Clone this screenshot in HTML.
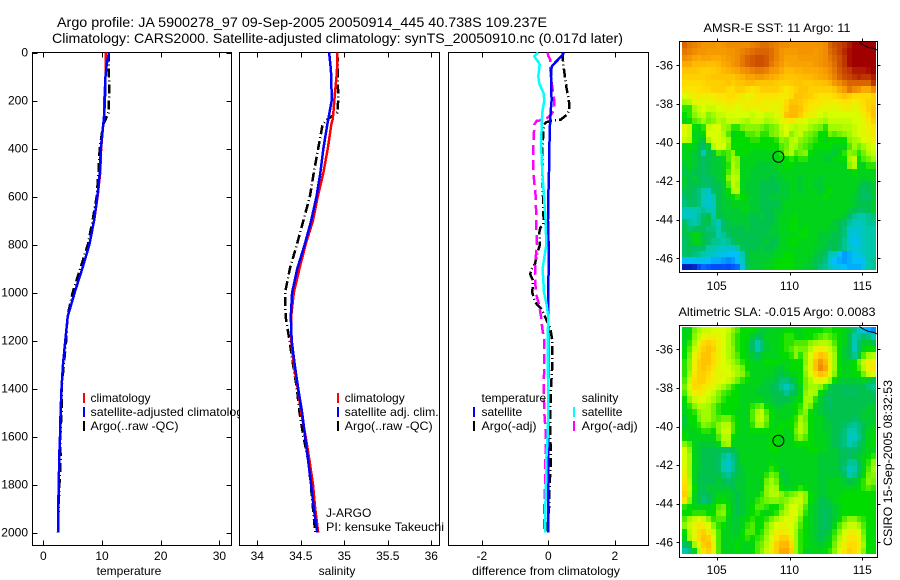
<!DOCTYPE html>
<html>
<head>
<meta charset="utf-8">
<title>Argo profile</title>
<style>
html,body{margin:0;padding:0;background:#fff;}
svg{display:block;font-family:"Liberation Sans",sans-serif;font-size:12px;fill:#000;}
</style>
</head>
<body>
<svg id="fig" xmlns="http://www.w3.org/2000/svg" width="900" height="580" viewBox="0 0 900 580">
<rect x="0" y="0" width="900" height="580" fill="#fff"/>
<text x="57" y="27" font-size="14" textLength="490" lengthAdjust="spacingAndGlyphs">Argo profile: JA 5900278_97 09-Sep-2005 20050914_445 40.738S 109.237E</text>
<text x="52" y="43" font-size="14" textLength="571" lengthAdjust="spacingAndGlyphs">Climatology: CARS2000. Satellite-adjusted climatology: synTS_20050910.nc (0.017d later)</text>
</svg>
<script>
// ---------- shared profile data ----------
var depths = [0,50,100,200,250,280,300,400,500,600,700,800,900,1000,1100,1200,1300,1400,1500,1600,1700,1800,1900,2000];
var depthTicks = [0,200,400,600,800,1000,1200,1400,1600,1800,2000];

// temperature panel
var tempTicks = [0,10,20,30];
var tempClim = [10.6,10.6,10.6,10.4,10.4,10.3,10.2,9.85,9.7,9.25,8.65,7.85,6.65,5.35,4.15,3.75,3.35,3.1,2.95,2.85,2.7,2.65,2.5,2.5];
var tempSat  = [11.2,10.8,10.6,10.5,10.4,10.3,10.2,9.8,9.65,9.2,8.65,7.85,6.65,5.35,4.15,3.75,3.35,3.1,2.95,2.85,2.7,2.65,2.5,2.5];
var tempArgo = [11.1,11.15,11.2,11.2,11.1,10.6,10.2,9.6,9.4,9.1,8.4,7.6,6.3,5.0,4.1,3.9,3.5,3.1,3.1,2.9,2.95,2.75,2.6,2.5];

// salinity panel
var salTicks = [34,34.5,35,35.5,36];
var salClim = [34.92,34.92,34.91,34.885,34.875,34.865,34.85,34.81,34.76,34.695,34.64,34.555,34.485,34.42,34.39,34.39,34.42,34.465,34.505,34.555,34.6,34.64,34.665,34.7];
var salSat  = [34.825,34.84,34.85,34.855,34.83,34.815,34.805,34.76,34.725,34.68,34.62,34.545,34.46,34.4,34.385,34.395,34.43,34.47,34.515,34.55,34.585,34.62,34.65,34.69];
var salArgo = [34.92,34.925,34.925,34.93,34.92,34.8,34.75,34.7,34.65,34.605,34.53,34.455,34.375,34.32,34.325,34.37,34.41,34.455,34.485,34.53,34.585,34.615,34.64,34.665];

// difference panel
var diffTicks = [-2,0,2];
var diffDepthsT = [0,15,50,100,150,200,240,260,280,285,290,300,400,500,600,700,720,730,750,800,830,880,905,925,950,1000,1040,1070,1110,1150,1200,1300,1400,1500,1600,1700,1750,1800,1900,2000];
var diffTempArgo = [0.43,0.43,0.45,0.5,0.55,0.62,0.64,0.55,0.37,0.08,-0.05,-0.13,-0.18,-0.18,-0.16,-0.14,-0.15,-0.24,-0.27,-0.25,-0.32,-0.4,-0.52,-0.54,-0.46,-0.48,-0.4,-0.2,-0.07,0.06,0.12,0.12,0.08,0.06,0.06,0.08,0.06,0.04,0.02,-0.05];
var diffDepthsTS = [0,15,50,60,100,200,250,300,400,500,600,700,800,900,1000,1100,1400,1700,2000];
var diffTempSat = [0.47,0.4,0.15,0.1,0.08,0.1,0.07,0.05,0.03,0.02,0,-0.01,0.01,0.01,0,0,0,0,0];
var diffDepthsS = [0,15,30,50,100,130,170,200,250,300,400,500,600,700,800,900,1000,1050,1100,1200,1300,1400,1500,1600,1700,1800,1900,2000];
var diffSalSat = [-0.3,-0.42,-0.35,-0.26,-0.3,-0.27,-0.14,-0.12,-0.18,-0.2,-0.21,-0.18,-0.13,-0.08,-0.06,-0.17,-0.13,-0.05,0,-0.02,-0.02,0,0,-0.02,-0.06,-0.07,-0.09,-0.09];
var diffDepthsSA = [0,15,30,100,170,200,240,260,280,285,300,400,500,600,700,800,900,1000,1050,1100,1150,1200,1300,1400,1500,1600,1700,1800,1900,2000];
var diffSalArgo = [-0.02,0,0.06,0.07,0.15,0.18,0.17,0.08,-0.1,-0.35,-0.42,-0.45,-0.45,-0.38,-0.36,-0.35,-0.4,-0.38,-0.28,-0.22,-0.18,-0.12,-0.12,-0.14,-0.12,-0.07,-0.09,-0.1,-0.12,-0.12];

// map data (colour-scale index 0..100), rows north to south
var mapLonTicks = [105,110,115];
var mapLatTicks = [-36,-38,-40,-42,-44,-46];
var floatLon = 109.237;
var floatLat = -40.738;
var coastLon = [114.8,115.07,115.41,115.76,116.03];
var coastLat = [-34.82,-34.95,-35.07,-35.12,-35.21];
var sstGrid = [
[92,90,89,88,87,87,87,86,87,88,88,88,88,88,89,90,91,91,90,89,88,88,87,87,87,87,87,87,87,88,92,94,95,96,98,100,100,100,100,100],
[90,89,88,87,87,86,86,86,86,87,87,88,89,90,91,92,92,92,91,89,87,86,86,86,87,87,87,86,87,88,91,93,95,97,99,100,100,100,100,100],
[88,87,85,84,85,85,84,84,85,86,87,88,90,92,93,94,94,93,91,89,87,85,85,85,86,86,86,86,87,88,90,92,94,96,99,100,100,100,100,100],
[84,84,82,82,82,81,81,82,84,85,87,88,90,92,93,94,94,93,90,88,86,84,85,85,85,85,85,86,87,88,89,91,94,96,99,100,100,100,100,100],
[80,80,80,79,78,78,79,80,82,83,84,85,87,88,89,90,90,89,87,86,84,82,82,83,83,84,84,84,85,86,88,90,93,95,96,98,98,98,99,100],
[78,78,78,78,78,79,80,80,80,80,80,82,83,85,85,86,86,85,84,83,81,80,80,80,81,82,82,83,84,85,87,89,92,94,95,96,97,96,96,98],
[76,76,76,76,77,78,78,78,79,80,78,80,80,82,82,80,80,80,80,79,78,78,79,80,80,79,79,80,80,81,83,86,88,90,92,92,92,92,92,96],
[74,74,74,75,76,76,78,78,78,76,76,78,78,76,74,76,78,78,78,78,76,74,76,78,80,80,78,78,78,78,78,80,84,86,90,88,87,84,84,88],
[68,70,72,73,72,72,72,74,74,76,76,74,73,70,72,74,74,74,74,74,72,73,76,80,80,79,78,76,74,74,74,76,78,80,78,76,76,76,76,78],
[62,64,70,70,70,70,70,71,72,74,73,71,72,72,73,74,72,72,72,72,72,76,80,80,79,77,75,74,74,72,72,72,73,74,74,72,74,76,78,78],
[54,54,62,66,68,66,66,68,70,70,70,68,70,72,70,70,72,72,70,70,72,77,82,82,80,76,74,72,70,70,70,70,70,72,72,70,72,74,78,80],
[52,54,60,64,66,60,62,66,66,68,68,68,68,68,66,68,68,66,66,70,72,80,82,82,78,74,72,70,68,66,68,68,68,68,68,68,70,72,76,80],
[50,52,56,58,62,58,60,64,62,66,66,66,64,62,66,66,66,62,64,66,70,72,74,72,70,68,66,66,64,62,66,66,66,66,66,68,68,70,74,78],
[70,66,52,50,54,66,68,68,62,60,54,54,58,60,60,60,58,56,58,60,66,68,66,64,66,66,62,60,58,54,62,62,62,64,64,66,68,70,72,74],
[68,66,50,50,52,68,68,68,64,56,50,52,52,56,56,58,54,54,58,60,64,68,60,64,66,60,58,56,52,52,58,56,58,60,62,66,68,70,70,74],
[66,64,52,48,46,62,68,68,66,62,52,52,52,52,54,54,52,52,52,54,60,58,64,66,60,58,56,54,52,50,52,52,52,52,60,62,64,68,70,72],
[50,52,50,46,44,48,64,68,68,60,52,52,52,52,52,52,52,52,52,52,56,58,64,62,58,56,54,52,52,52,52,50,50,50,56,62,58,62,66,68],
[50,50,48,46,36,46,48,56,54,56,60,52,52,52,50,50,50,50,50,52,54,60,64,56,58,60,52,50,50,50,50,48,50,54,60,58,54,58,64,66],
[50,50,48,46,44,46,48,48,50,56,62,60,50,50,50,50,50,50,50,50,52,52,54,52,54,54,50,50,50,48,48,50,52,52,62,66,52,56,58,62],
[48,50,48,46,44,46,48,48,50,54,64,60,50,50,50,48,48,48,48,50,50,52,52,50,50,50,50,50,50,50,50,50,50,50,60,64,50,50,54,54],
[46,48,46,46,44,46,48,48,50,56,64,62,50,50,48,48,48,48,48,48,50,50,50,50,50,50,50,50,50,50,50,50,50,50,50,52,50,50,50,50],
[48,46,48,46,44,44,46,48,50,60,66,64,50,50,48,48,48,48,46,48,48,50,50,50,48,50,50,50,48,50,50,50,50,50,50,50,50,48,50,50],
[48,46,46,46,44,44,46,46,48,56,66,62,50,48,48,48,46,46,46,46,48,48,50,50,48,50,50,48,48,50,50,50,50,50,50,50,48,46,46,48],
[46,46,44,42,38,36,44,46,48,52,64,64,50,48,48,48,46,46,46,46,48,48,50,50,48,50,50,50,48,50,52,50,50,50,50,50,46,44,46,48],
[44,46,44,42,36,34,38,46,48,50,52,54,52,50,48,48,46,46,48,48,48,48,50,50,50,50,50,50,50,52,50,50,50,50,50,48,46,44,44,48],
[42,44,44,42,36,34,36,46,48,48,50,50,50,50,48,48,46,46,46,46,48,50,50,50,50,50,50,50,50,50,50,50,50,50,50,48,46,46,46,48],
[36,36,38,38,40,38,36,46,48,48,48,48,50,50,48,48,46,46,46,48,48,50,50,50,50,50,50,50,50,50,50,50,50,50,48,46,44,44,46,48],
[36,34,36,40,44,46,38,46,46,48,48,48,48,48,46,46,48,46,46,48,50,50,50,52,50,50,50,50,50,50,50,50,50,48,44,40,38,38,40,42],
[44,40,38,40,46,46,40,36,44,46,48,48,48,48,46,46,46,46,46,48,50,50,52,52,50,50,50,50,50,50,50,48,46,44,40,36,36,38,40,40],
[46,42,44,46,44,42,42,38,44,46,46,46,46,48,46,46,46,46,48,48,50,50,52,52,50,52,50,50,50,50,48,48,46,42,36,34,34,36,38,38],
[46,48,50,50,46,44,44,38,40,44,46,46,46,46,46,46,46,46,48,48,50,50,50,50,52,52,50,50,48,48,48,46,46,42,34,32,34,36,38,38],
[44,46,50,50,46,44,40,40,38,40,44,46,46,46,46,46,46,48,46,46,50,50,52,52,50,50,50,50,48,48,46,46,44,40,34,30,32,36,38,38],
[44,46,44,44,44,38,38,36,34,34,34,38,44,46,46,46,48,46,46,48,50,50,50,50,50,50,50,48,48,46,44,46,44,40,36,32,34,36,38,38],
[44,44,42,40,38,36,34,32,30,30,28,28,38,46,48,48,48,48,48,50,50,52,52,50,50,50,50,48,46,44,38,36,28,24,26,30,32,34,38,38],
[28,28,30,30,30,28,26,26,24,22,24,28,36,46,48,48,48,48,50,50,52,52,52,50,50,50,48,46,44,42,34,28,26,24,26,30,28,30,38,40],
[6,6,8,14,18,16,14,14,15,14,16,18,32,44,48,48,48,50,50,52,52,52,52,50,50,48,48,46,42,40,36,32,30,28,26,26,26,32,38,40]
];
var slaGrid = [
[50,50,58,62,66,66,68,68,68,66,60,56,52,52,52,50,48,48,50,50,50,52,52,50,50,52,52,52,52,54,54,52,52,50,48,42,34,30,26,22],
[50,52,60,66,70,72,72,70,68,64,58,54,52,52,48,44,46,50,50,50,52,54,54,52,50,52,52,54,56,58,56,54,52,50,46,38,40,44,42,36],
[50,54,62,70,76,78,76,72,68,64,58,54,52,50,44,38,42,48,50,50,52,54,54,56,56,56,60,62,64,64,62,56,52,50,46,37,44,48,48,46],
[52,56,66,74,78,80,78,72,68,64,60,54,52,50,44,38,42,48,50,50,52,54,56,60,58,58,64,70,72,70,66,60,52,48,46,36,44,50,52,52],
[52,58,70,76,80,80,76,72,68,64,60,56,52,50,48,44,48,50,50,50,52,52,54,60,54,60,68,76,80,78,70,62,52,48,46,40,48,56,62,64],
[54,60,72,78,80,80,76,72,68,66,62,58,54,52,50,50,50,52,52,52,50,50,52,52,52,60,70,80,86,82,72,62,52,50,50,52,58,66,72,72],
[54,60,72,78,80,78,74,70,68,68,64,62,58,52,50,50,50,50,50,48,48,50,52,52,52,62,70,80,88,84,72,62,52,50,50,52,56,64,72,74],
[54,62,74,78,78,76,72,70,70,68,66,62,60,54,50,50,50,50,50,48,46,48,50,50,52,60,68,76,80,78,70,60,52,50,50,52,52,58,66,68],
[56,66,76,78,78,74,72,70,68,66,62,58,54,52,50,50,50,48,48,46,42,42,46,48,52,58,64,68,70,68,62,52,48,48,48,48,48,50,48,44],
[58,68,76,76,74,72,70,66,62,58,54,52,50,50,50,50,48,48,46,44,40,36,40,46,50,58,62,62,60,54,48,46,46,46,46,46,46,46,42,40],
[56,66,72,74,72,68,66,60,56,54,52,52,50,50,50,48,48,48,46,46,44,40,44,46,50,60,64,62,52,48,46,46,46,44,44,44,46,46,46,44],
[52,60,66,70,68,66,62,58,54,52,52,52,50,50,50,50,50,48,48,46,46,46,48,50,52,62,62,54,48,46,44,46,46,46,46,46,46,46,46,46],
[50,54,60,64,64,62,58,54,52,52,52,52,50,50,54,56,58,52,50,48,48,50,50,52,54,62,58,50,48,46,44,46,46,46,46,46,46,46,48,48],
[50,52,54,60,62,62,58,54,52,52,52,50,50,50,56,62,66,56,52,50,50,50,50,52,56,60,52,50,48,46,46,46,46,46,46,46,46,48,48,48],
[48,52,52,58,62,62,58,56,58,58,54,52,50,50,56,64,66,58,52,50,50,50,52,54,62,58,52,50,50,48,46,46,46,46,46,44,46,48,48,48],
[48,50,52,54,60,58,56,60,64,64,56,52,50,50,54,62,62,56,52,50,52,52,52,56,64,60,52,50,50,48,48,46,46,44,42,40,42,46,48,50],
[50,50,50,52,54,54,52,60,66,66,56,52,50,50,52,52,52,52,50,52,52,50,52,58,64,60,52,50,50,48,48,46,46,42,38,38,42,46,50,50],
[52,50,50,50,50,50,50,56,64,64,52,50,50,50,50,50,50,50,52,52,50,50,50,56,60,56,52,50,50,50,48,46,44,42,36,36,40,46,50,52],
[60,56,50,48,48,48,48,50,60,62,50,50,50,50,50,50,50,50,52,52,50,50,50,52,52,52,52,50,50,50,48,46,44,42,38,40,44,48,50,52],
[68,60,50,48,46,46,46,46,44,44,46,48,50,50,50,50,50,50,52,52,50,50,50,50,50,50,52,52,50,50,48,48,46,44,44,44,46,48,50,50],
[68,62,50,48,46,46,46,44,40,38,42,46,50,50,50,50,50,50,50,50,50,50,50,50,50,50,50,50,48,48,48,48,46,46,44,46,48,50,52,54],
[68,62,50,48,46,46,46,44,38,36,40,46,50,50,50,50,50,50,52,50,50,50,50,50,50,50,50,50,48,48,48,48,46,44,40,40,46,50,54,60],
[70,62,50,48,46,46,46,44,38,35,40,46,48,50,50,50,50,50,54,52,48,50,50,50,50,50,50,50,48,48,48,48,46,42,36,38,44,50,56,62],
[72,62,50,46,46,46,46,46,42,40,44,46,48,50,50,50,50,54,58,56,48,48,50,50,50,50,50,50,48,48,48,48,48,44,38,40,46,52,58,60],
[74,64,50,46,46,46,46,48,46,44,46,48,48,50,50,50,50,58,62,58,50,48,50,50,50,50,50,50,48,48,50,50,50,48,46,48,50,54,60,58],
[76,66,52,46,46,48,48,48,48,48,46,48,48,50,50,50,50,60,64,62,52,50,50,52,54,52,50,50,48,48,50,50,50,50,50,50,52,54,56,54],
[78,64,50,46,44,46,48,50,50,50,48,46,48,50,50,50,54,60,64,64,60,56,58,60,64,60,52,50,48,48,50,50,50,52,52,52,52,52,52,52],
[74,60,50,46,42,44,48,52,52,50,48,46,48,50,50,54,56,58,60,60,58,60,64,66,66,60,52,50,46,46,48,50,52,52,52,52,52,52,52,52],
[54,52,50,50,50,50,52,56,58,52,48,46,48,50,52,56,56,54,52,52,56,62,68,68,64,56,50,48,46,46,46,48,50,52,52,52,52,52,52,52],
[52,52,54,54,54,52,52,58,60,52,48,46,48,50,52,54,52,50,52,54,60,64,70,68,62,54,50,48,46,44,46,48,50,52,52,52,52,52,52,52],
[56,62,66,68,66,60,54,56,56,50,48,48,50,52,54,52,52,54,58,62,66,68,70,66,58,52,50,48,46,44,46,48,52,56,60,60,56,54,52,52],
[60,66,70,74,72,68,60,54,52,50,48,48,50,54,56,52,52,58,64,68,70,70,68,64,56,52,50,48,46,44,46,50,56,62,66,66,62,56,52,52],
[52,64,70,76,78,72,66,56,50,50,48,48,52,56,56,52,54,60,66,72,74,72,68,62,54,52,50,48,46,46,48,54,60,68,72,72,68,58,52,52],
[50,62,70,76,80,78,68,56,50,50,50,50,52,54,52,54,56,62,68,74,78,78,72,62,54,52,50,48,46,48,50,56,64,70,74,74,70,60,52,52],
[44,46,62,72,78,80,72,56,50,50,50,52,50,50,50,56,58,64,70,78,82,82,76,62,54,52,50,50,48,50,52,58,66,72,76,76,72,62,52,52],
[38,42,50,66,74,78,72,56,50,50,50,52,50,50,52,56,60,66,72,78,84,84,78,62,54,50,50,50,50,52,54,60,68,74,78,76,70,60,52,52]
];

// ---------- helpers ----------
var NS = 'http://www.w3.org/2000/svg';
var svg = document.getElementById('fig');
function mk(tag, attrs, parent) {
  var e = document.createElementNS(NS, tag);
  for (var k in attrs) e.setAttribute(k, attrs[k]);
  (parent || svg).appendChild(e);
  return e;
}
function group(name) {
  var g = document.createElementNS(NS, 'g');
  
  
  svg.appendChild(g);
  return g;
}
function label(g, name, x, y, txt, anchor, len) {
  var t = mk('text', {x: x, y: y, 'text-anchor': anchor || 'start', 'font-size': 12}, g);
  if (len) {
    t.setAttribute('textLength', len);
    t.setAttribute('lengthAdjust', 'spacingAndGlyphs');
  }
  
  
  t.textContent = txt;
  return t;
}
function seg(g, x1, y1, x2, y2, col) {
  return mk('line', {x1: x1, y1: y1, x2: x2, y2: y2, stroke: col || '#000', 'stroke-width': 1, 'shape-rendering': 'crispEdges'}, g);
}
var depthY = function (d) { return 52.5 + d * 0.24; };
var PTOP = 52.5, PBOT = 545.5;

function panel(name, left, right, xScale, ticks, tickFmt, xTitle, titleX, yAxis, titleLen) {
  var g = group(name);
  var bg = mk('rect', {x: left, y: PTOP, width: right - left, height: PBOT - PTOP, fill: '#fff', stroke: '#000', 'stroke-width': 1, 'shape-rendering': 'crispEdges'}, g);
  
  
  ticks.forEach(function (t) {
    var x = Math.round(xScale(t)) + 0.5;
    seg(g, x, PTOP, x, PTOP + 5);
    seg(g, x, PBOT, x, PBOT - 5);
    label(g, name + '-x-tick-label', xScale(t), 560, tickFmt(t), 'middle');
  });
  label(g, name + '-x-axis-title', titleX, 575, xTitle, 'middle', titleLen);
  if (yAxis) {
    depthTicks.forEach(function (d) {
      var y = Math.round(depthY(d)) + 0.5;
      seg(g, left, y, left + 5, y);
      seg(g, right, y, right - 5, y);
      label(g, name + '-y-tick-label', 28, depthY(d) + 4, String(d), 'end');
    });
  }
  return g;
}
function series(g, name, xs, ds, xScale, col, dashed, width) {
  var pts = xs.map(function (v, i) { return xScale(v).toFixed(1) + ',' + depthY(ds[i]).toFixed(1); }).join(' ');
  var p = mk('polyline', {points: pts, fill: 'none', stroke: col, 'stroke-width': width || 2.5, 'shape-rendering': 'crispEdges'}, g);
  if (dashed) p.setAttribute('stroke-dasharray', dashed);
  
  
}
function legend(g, name, items, mx, tx) {
  items.forEach(function (it, i) {
    var y = 402 + i * 14;
    if (it[1]) {
      var m = mk('rect', {x: mx, y: y - 9, width: 2, height: 10, fill: it[1]}, g);
      
      
    }
    label(g, name + '-entry', tx, y, it[0], 'start', it[2]);
  });
}

// ---------- panel 1: temperature ----------
var xTemp = function (v) { return 43.3 + v * 5.87; };
var p1 = panel('temperature-panel', 32.5, 231.5, xTemp, tempTicks, String, 'temperature', 129, true);
series(p1, 'temperature-argo-line', tempArgo, depths, xTemp, '#000', '9 3 1 3');
series(p1, 'temperature-climatology-line', tempClim, depths, xTemp, '#f00');
series(p1, 'temperature-satellite-line', tempSat, depths, xTemp, '#00f');
legend(p1, 'temperature-legend', [['climatology', '#f00'], ['satellite-adjusted climatology', '#00f', 159], ['Argo(..raw -QC)', '#000', 88]], 83, 90.5);

// ---------- panel 2: salinity ----------
var xSal = function (v) { return 257.3 + (v - 34) * 87; };
var p2 = panel('salinity-panel', 239.5, 439.5, xSal, salTicks, String, 'salinity', 337, false);
series(p2, 'salinity-argo-line', salArgo, depths, xSal, '#000', '9 3 1 3');
series(p2, 'salinity-climatology-line', salClim, depths, xSal, '#f00');
series(p2, 'salinity-satellite-line', salSat, depths, xSal, '#00f');
legend(p2, 'salinity-legend', [['climatology', '#f00'], ['satellite adj. clim.', '#00f', 94], ['Argo(..raw -QC)', '#000', 88]], 337, 344.7);
label(p2, 'owner-label', 326, 517, 'J-ARGO');

// ---------- panel 3: difference ----------
var xDiff = function (v) { return 548.3 + v * 33.25; };
var p3 = panel('difference-panel', 448.5, 648.5, xDiff, diffTicks, String, 'difference from climatology', 546, false, 148);
series(p3, 'difference-temperature-argo-line', diffTempArgo, diffDepthsT, xDiff, '#000', '9 3 1 3');
series(p3, 'difference-salinity-argo-line', diffSalArgo, diffDepthsSA, xDiff, '#f0f', '10 5');
series(p3, 'difference-temperature-satellite-line', diffTempSat, diffDepthsTS, xDiff, '#00f');
series(p3, 'difference-salinity-satellite-line', diffSalSat, diffDepthsS, xDiff, '#0ff');
legend(p3, 'difference-temperature-legend', [['temperature', null], ['satellite', '#00f'], ['Argo(-adj)', '#000', 55]], 473, 481.5);
legend(p3, 'difference-salinity-legend', [['salinity', null], ['satellite', '#0ff'], ['Argo(-adj)', '#f0f', 56]], 573, 581.7);
var piGroup = group('credit-group');
label(piGroup, 'pi-label', 326, 531, 'PI: kensuke Takeuchi', 'start', 118);

// ---------- maps ----------
var colorStops = [
[0,0,0,140],[15,0,80,255],[28,0,190,255],[38,0,200,170],[45,0,190,90],[52,0,220,0],
[57,100,240,0],[62,160,250,0],[68,215,255,0],[75,255,225,0],[82,255,185,0],[88,240,140,0],[94,205,80,0],[100,160,0,0]];
function colorOf(v) {
  for (var i = 1; i < colorStops.length; i++) {
    if (v <= colorStops[i][0]) {
      var a = colorStops[i - 1], b = colorStops[i], f = (v - a[0]) / (b[0] - a[0]);
      return 'rgb(' + [1, 2, 3].map(function (k) { return Math.round(a[k] + (b[k] - a[k]) * f); }).join(',') + ')';
    }
  }
  return 'rgb(160,0,0)';
}
function mapPanel(name, grid, top, bot, lat36Y, imgTop, imgBot, title, titleY, labelY, titleLen) {
  var g = group(name);
  var L = 679.5, R = 877.5;
  var xLon = function (lon) { return 716.7 + (lon - 105) * 14.56; };
  var yLat = function (lat) { return lat36Y + (-36 - lat) * 19.3; };
  var rows = grid.length, cols = grid[0].length;
  var lon0 = 102.62, dLon = 13.32 / cols;
  var lat0 = -36 + (lat36Y - imgTop) / 19.3, dLat = (imgBot - imgTop) / 19.3 / rows;
  for (var r = 0; r < rows; r++) {
    for (var c = 0; c < cols; c++) {
      var x0 = Math.round(xLon(lon0 + c * dLon)), x1 = Math.round(xLon(lon0 + (c + 1) * dLon));
      var y0 = Math.round(yLat(lat0 - r * dLat)), y1 = Math.round(yLat(lat0 - (r + 1) * dLat));
      var cell = mk('rect', {x: x0, y: y0, width: x1 - x0, height: y1 - y0, fill: colorOf(grid[r][c]), 'shape-rendering': 'crispEdges'}, g);
      
      
    }
  }
  var fr = mk('rect', {x: L, y: top, width: R - L, height: bot - top, fill: 'none', stroke: '#000', 'stroke-width': 1, 'shape-rendering': 'crispEdges'}, g);
  
  
  mapLonTicks.forEach(function (t) {
    var x = Math.round(xLon(t)) + 0.5;
    seg(g, x, top - 3, x, top);
    seg(g, x, bot, x, bot + 3);
    label(g, name + '-lon-label', xLon(t), labelY, String(t), 'middle');
  });
  mapLatTicks.forEach(function (t) {
    var y = Math.round(yLat(t)) + 0.5;
    seg(g, L - 3, y, L, y);
    seg(g, R, y, R + 3, y);
    label(g, name + '-lat-label', 673, yLat(t) + 4, String(t), 'end');
  });
  var coast = coastLon.map(function (lon, i) { return xLon(lon).toFixed(1) + ',' + yLat(coastLat[i]).toFixed(1); }).join(' ');
  var cl = mk('polyline', {points: coast, fill: 'none', stroke: '#000', 'stroke-width': 1}, g);
  
  
  var ci = mk('circle', {cx: xLon(floatLon), cy: yLat(floatLat), r: 5.5, fill: 'none', stroke: '#000', 'stroke-width': 1}, g);
  
  
  label(g, name + '-title', 777, titleY, title, 'middle', titleLen);
}
mapPanel('sst-map', sstGrid, 41.5, 272.5, 65.3, 42, 270, 'AMSR-E SST: 11 Argo: 11', 32, 290, 147);
mapPanel('sla-map', slaGrid, 325.5, 557.5, 349.3, 327, 554, 'Altimetric SLA: -0.015 Argo: 0.0083', 316, 574, 197);

var stamp = group('timestamp-group');
var st = label(stamp, 'timestamp-label', 0, 0, 'CSIRO 15-Sep-2005 08:32:53', 'start', 166);
st.setAttribute('transform', 'translate(892,546) rotate(-90)');
</script>
</body>
</html>
